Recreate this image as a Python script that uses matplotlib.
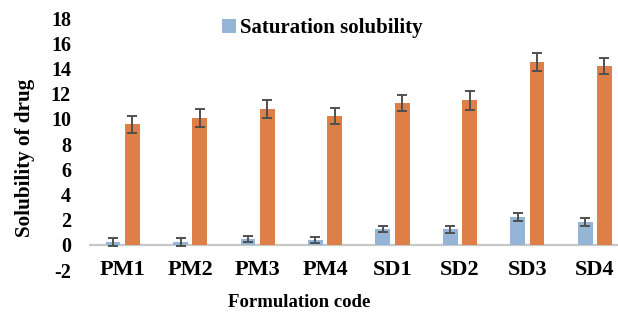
import matplotlib
matplotlib.use("Agg")
import matplotlib.pyplot as plt
import numpy as np
from matplotlib.patches import Patch

plt.rcParams['font.family'] = ['Liberation Serif', 'DejaVu Serif']
plt.rcParams['font.weight'] = 'bold'

categories = ["PM1", "PM2", "PM3", "PM4", "SD1", "SD2", "SD3", "SD4"]
saturation = [0.22, 0.22, 0.45, 0.40, 1.25, 1.25, 2.20, 1.83]
saturation_err = [0.30, 0.30, 0.25, 0.26, 0.25, 0.27, 0.30, 0.30]
second_series = [9.58, 10.08, 10.80, 10.25, 11.25, 11.48, 14.52, 14.18]
second_err = [0.67, 0.70, 0.70, 0.65, 0.65, 0.75, 0.70, 0.65]
y_ticks = [-2, 0, 2, 4, 6, 8, 10, 12, 14, 16, 18]

blue = "#95B5D6"
orange = "#DE7F47"
err_color = "#505050"

fig = plt.figure(figsize=(6.18, 3.22), dpi=100)
ax = fig.add_axes([0.144, 0.161, 0.873, 0.7826])

x = np.arange(len(categories))
w = 0.22
off = 0.143
ax.bar(x - off, saturation, width=w, color=blue, zorder=3)
ax.bar(x + off, second_series, width=w, color=orange, zorder=3)
ax.errorbar(x - off, saturation, yerr=saturation_err, fmt='none',
            ecolor=err_color, elinewidth=1.4, capsize=3.8, capthick=1.4, zorder=4)
ax.errorbar(x + off, second_series, yerr=second_err, fmt='none',
            ecolor=err_color, elinewidth=1.4, capsize=3.8, capthick=1.4, zorder=4)

ax.axhline(0, color="#C8C8C8", lw=1.6, zorder=2)

ax.set_xlim(-0.5, len(categories) - 0.5)
ax.set_ylim(-2, 18)
ax.set_yticks(y_ticks)
ax.set_yticklabels([str(t) for t in y_ticks], fontsize=14.5, fontweight='bold')
ax.set_xticks(x)
ax.set_xticklabels(categories, fontsize=16, fontweight='bold')
for lab in ax.get_xticklabels():
    lab.set_va('center')
ax.tick_params(axis='x', length=0, pad=0)
ax.tick_params(axis='y', length=0, pad=13)
for s in ax.spines.values():
    s.set_visible(False)

ax.set_xlabel("Formulation code", fontsize=13.5, fontweight='bold', va='center')
ax.xaxis.set_label_coords(0.39, -0.13)
ax.set_ylabel("Solubility of drug", fontsize=15.2, fontweight='bold', va='center')
ax.yaxis.set_label_coords(-0.118, 0.445)

fig.legend(handles=[Patch(facecolor=blue, label="Saturation solubility")],
           loc='center left', bbox_to_anchor=(0.36, 0.913), frameon=False,
           prop={'size': 15, 'weight': 'bold'}, handlelength=0.65, handleheight=0.65,
           handletextpad=0.2, borderpad=0, borderaxespad=0)

fig.savefig("out.png", dpi=100)
